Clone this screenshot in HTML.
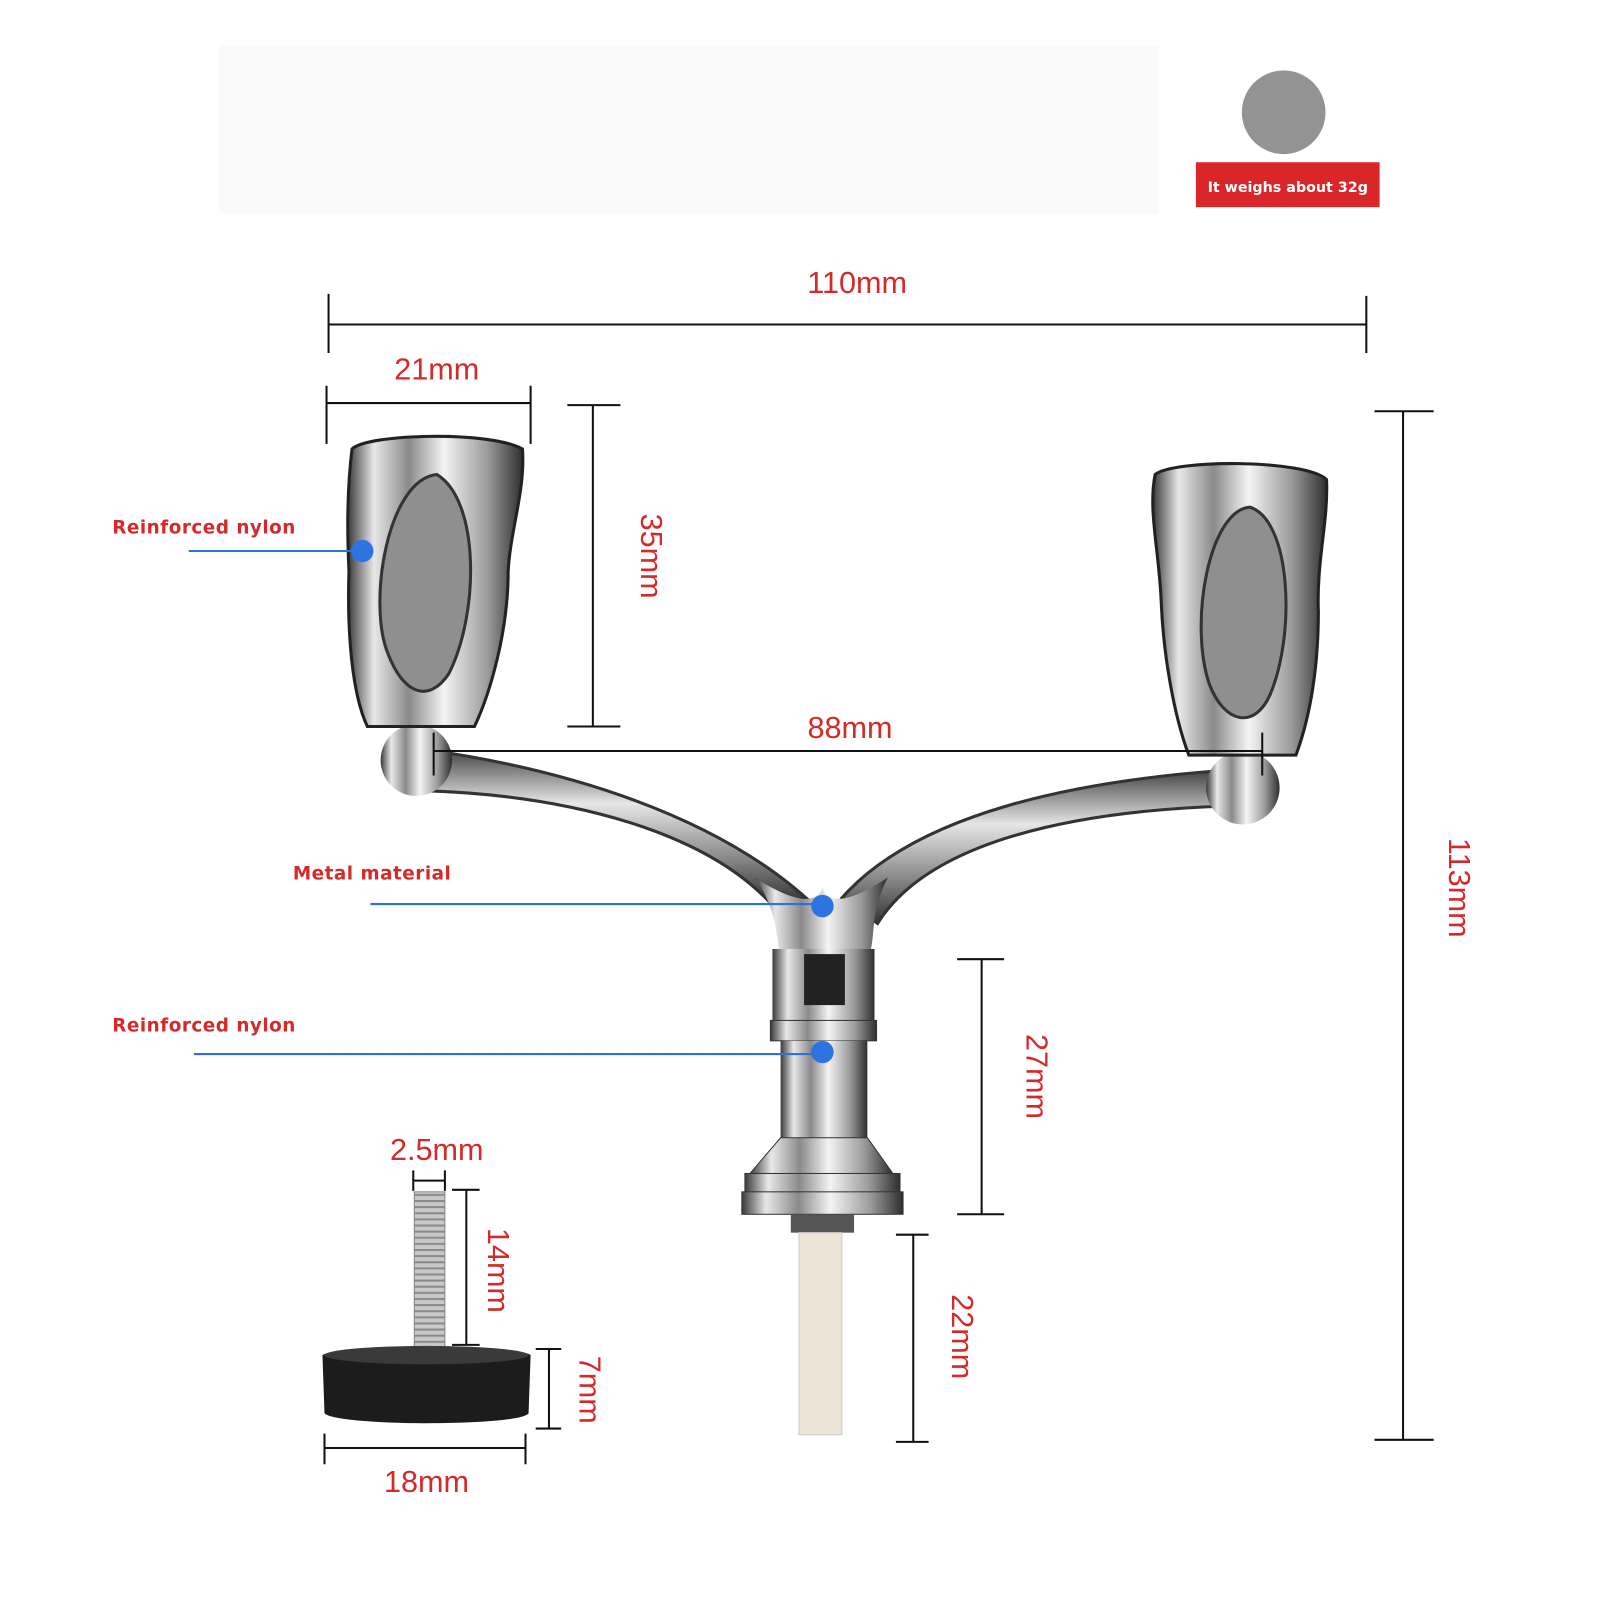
<!DOCTYPE html>
<html><head><meta charset="utf-8"><style>
html,body{margin:0;padding:0;background:#fff;width:1600px;height:1600px;overflow:hidden}
svg{display:block}
.r{fill:#d42a2a;font-family:"Liberation Sans",sans-serif;font-size:30px}
.b{fill:#d42a2a;font-family:"DejaVu Sans","Liberation Sans",sans-serif;font-size:18px;font-weight:bold;letter-spacing:0.5px}
.k{stroke:#111;stroke-width:2;fill:none}
.bl{stroke:#2f6fe0;stroke-width:2}
</style></head><body>
<svg width="1600" height="1600" viewBox="0 0 1568 1568" xmlns="http://www.w3.org/2000/svg">
<defs>
<linearGradient id="m" x1="0" x2="1" y1="0" y2="0">
<stop offset="0" stop-color="#3a3a3a"/><stop offset="0.15" stop-color="#e8e8e8"/><stop offset="0.35" stop-color="#8a8a8a"/><stop offset="0.55" stop-color="#f4f4f4"/><stop offset="0.8" stop-color="#9a9a9a"/><stop offset="1" stop-color="#2e2e2e"/>
</linearGradient>
<linearGradient id="a" x1="0" x2="0" y1="0" y2="1">
<stop offset="0" stop-color="#444"/><stop offset="0.35" stop-color="#e6e6e6"/><stop offset="0.7" stop-color="#8a8a8a"/><stop offset="1" stop-color="#333"/>
</linearGradient>
<pattern id="th" width="6" height="6" patternUnits="userSpaceOnUse"><rect width="6" height="6" fill="#c8c8c8"/><rect width="6" height="2" fill="#8a8a8a"/></pattern>
</defs>
<rect x="215" y="45" width="920" height="165" fill="#fafafb"/>
<circle cx="1258" cy="110" r="41" fill="#939393"/>
<rect x="1172" y="159" width="180" height="44" fill="#d8262a"/>
<text x="1262" y="188" text-anchor="middle" font-family="DejaVu Sans,sans-serif" font-size="14" font-weight="bold" fill="#fff">It weighs about 32g</text>

<!-- handle -->
<path d="M420,735 C560,755 700,800 790,880 L755,885 C690,815 560,780 420,775 Z" fill="url(#a)" stroke="#333" stroke-width="3"/>
<path d="M1200,755 C1060,765 900,795 825,880 L860,905 C910,825 1050,795 1200,790 Z" fill="url(#a)" stroke="#333" stroke-width="3"/>
<path d="M740,860 C770,880 800,890 806,870 C812,890 840,880 870,860 C850,900 860,920 850,940 L765,940 C760,910 760,890 740,860 Z" fill="url(#m)"/>
<rect x="757" y="930" width="100" height="70" fill="url(#m)"/>
<rect x="788" y="935" width="40" height="50" fill="#222"/>
<rect x="755" y="1000" width="104" height="20" fill="url(#m)" stroke="#333"/>
<rect x="765" y="1020" width="85" height="95" fill="url(#m)"/>
<path d="M765,1115 L850,1115 L875,1150 L735,1150 Z" fill="url(#m)" stroke="#333"/>
<rect x="730" y="1150" width="152" height="20" fill="url(#m)" stroke="#333"/>
<rect x="727" y="1168" width="158" height="22" fill="url(#m)" stroke="#333"/>
<rect x="775" y="1190" width="62" height="18" fill="#555"/>
<rect x="783" y="1208" width="42" height="198" fill="#ece4d6" stroke="#ccc"/>
<!-- left knob -->
<circle cx="408" cy="745" r="35" fill="url(#m)"/>
<path d="M345,440 C360,425 480,422 512,440 C515,480 500,520 498,560 C498,620 480,680 465,712 L360,712 C345,680 340,620 342,560 C340,520 340,480 345,440 Z" fill="url(#m)" stroke="#222" stroke-width="3"/>
<path d="M428,465 C470,490 470,600 440,660 C420,690 395,680 380,640 C360,590 380,470 428,465 Z" fill="#8f8f8f" stroke="#333" stroke-width="3"/>
<!-- right knob -->
<circle cx="1218" cy="772" r="36" fill="url(#m)"/>
<path d="M1132,465 C1150,450 1280,450 1300,470 C1302,510 1290,550 1292,600 C1292,650 1285,700 1270,740 L1165,740 C1150,700 1140,640 1138,590 C1136,540 1125,500 1132,465 Z" fill="url(#m)" stroke="#222" stroke-width="3"/>
<path d="M1225,497 C1265,510 1270,620 1245,680 C1230,715 1200,710 1185,670 C1165,610 1185,500 1225,497 Z" fill="#8f8f8f" stroke="#333" stroke-width="3"/>
<!-- screw -->
<rect x="406" y="1168" width="30" height="155" fill="url(#th)" stroke="#888"/>
<path d="M316,1328 C330,1318 510,1318 520,1328 L518,1385 C510,1398 330,1398 318,1385 Z" fill="#1c1c1c"/>
<ellipse cx="418" cy="1328" rx="100" ry="9" fill="#3a3a3a"/>

<!-- dimensions -->
<g class="k">
<path d="M322,318 H1339 M322,288 V346 M1339,290 V346"/>
<path d="M320,395 H520 M320,378 V435 M520,378 V435"/>
<path d="M581,397 V712 M556,397 H608 M556,712 H608"/>
<path d="M425,736 H1237 M425,718 V760 M1237,718 V760"/>
<path d="M1375,403 V1411 M1347,403 H1405 M1347,1411 H1405"/>
<path d="M962,940 V1190 M938,940 H984 M938,1190 H984"/>
<path d="M895,1210 V1413 M878,1210 H910 M878,1413 H910"/>
<path d="M457,1166 V1318 M443,1166 H470 M443,1318 H470"/>
<path d="M405,1157 H436 M405,1147 V1167 M436,1147 V1167"/>
<path d="M538,1322 V1400 M525,1322 H550 M525,1400 H550"/>
<path d="M318,1419 H515 M318,1405 V1435 M515,1405 V1435"/>
</g>
<text class="r" x="840" y="287" text-anchor="middle">110mm</text>
<text class="r" x="428" y="372" text-anchor="middle">21mm</text>
<text class="r" x="833" y="723" text-anchor="middle">88mm</text>
<text class="r" x="428" y="1137" text-anchor="middle">2.5mm</text>
<text class="r" x="418" y="1462" text-anchor="middle">18mm</text>
<text class="r" text-anchor="middle" transform="translate(628,545) rotate(90)">35mm</text>
<text class="r" text-anchor="middle" transform="translate(1420,870) rotate(90)">113mm</text>
<text class="r" text-anchor="middle" transform="translate(1006,1055) rotate(90)">27mm</text>
<text class="r" text-anchor="middle" transform="translate(933,1310) rotate(90)">22mm</text>
<text class="r" text-anchor="middle" transform="translate(478,1245) rotate(90)">14mm</text>
<text class="r" text-anchor="middle" transform="translate(568,1362) rotate(90)">7mm</text>

<!-- labels -->
<text class="b" x="110" y="523">Reinforced nylon</text>
<line class="bl" x1="185" y1="540" x2="355" y2="540"/><circle cx="355" cy="540" r="11" fill="#2f73e0"/>
<text class="b" x="287" y="862">Metal material</text>
<line class="bl" x1="363" y1="886" x2="806" y2="886"/><circle cx="806" cy="888" r="11" fill="#2f73e0"/>
<text class="b" x="110" y="1011">Reinforced nylon</text>
<line class="bl" x1="190" y1="1033" x2="806" y2="1033"/><circle cx="806" cy="1031" r="11" fill="#2f73e0"/>
</svg>
</body></html>
